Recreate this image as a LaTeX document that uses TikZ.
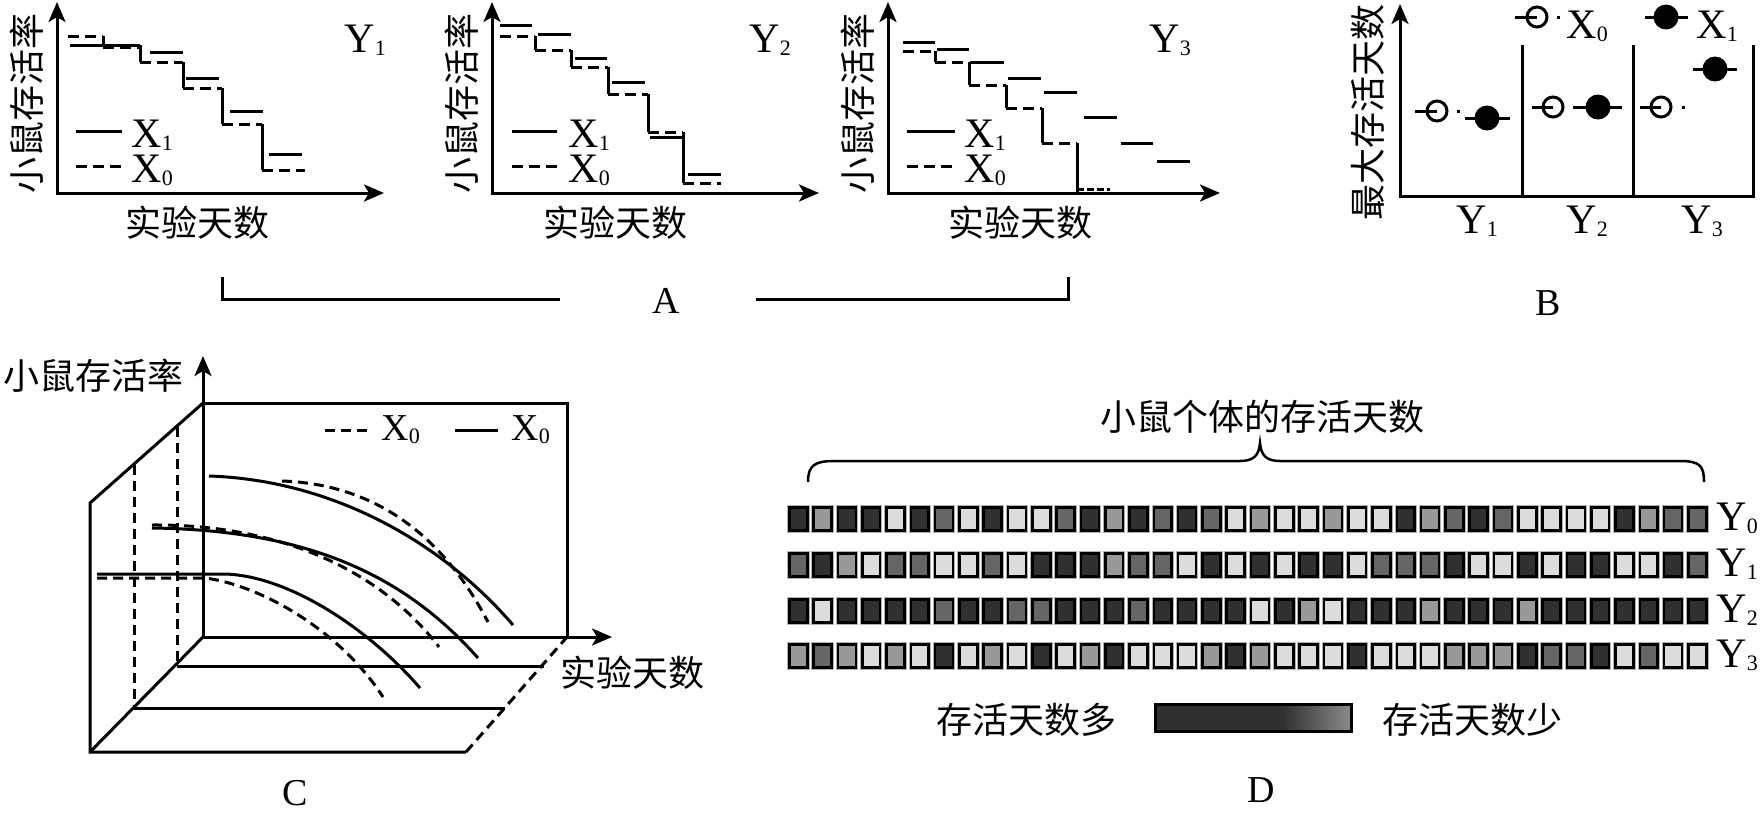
\documentclass[tikz,border=0pt]{standalone}
\usepackage{fontspec}
\setmainfont{Liberation Serif}
\newfontfamily\cjk{Noto Sans CJK SC}
\usetikzlibrary{arrows.meta}
\definecolor{colD}{HTML}{303030}
\definecolor{colM}{HTML}{666666}
\definecolor{colG}{HTML}{999999}
\definecolor{colL}{HTML}{DCDCDC}
\newcommand{\sbs}[1]{\raisebox{-3pt}{\fontsize{22}{22}\selectfont #1}}
\newcommand{\sqrow}[2]{%
  \foreach \sq [count=\i from 0] in {#2} {%
    \draw[black!30, line width=1pt] ({788+24.3*\i-0.5},{#1-0.5}) rectangle ++(21.5,27);
    \filldraw[fill=col\sq, draw=black, line width=2.6pt] ({788+24.3*\i+1.3},{#1+1.3}) rectangle ++(17.9,23.4);
  }}
\begin{document}
\begin{tikzpicture}[x=1pt,y=-1pt,line width=3pt,
  >={Stealth[length=20pt,width=17pt,inset=5pt]},
  dsh/.style={dash pattern=on 11pt off 6pt},
  cdsh/.style={dash pattern=on 10pt off 6pt},
  cn/.style={font={\cjk\fontsize{36}{40}\selectfont}, inner sep=0pt},
  lt/.style={font={\fontsize{42}{42}\selectfont}, inner sep=0pt, text height=29pt, text depth=3pt},
  lab/.style={font={\fontsize{38}{38}\selectfont}, inner sep=0pt, text height=26pt, text depth=3pt},
  ocirc/.style={circle, draw=black, line width=3pt, minimum size=20pt, inner sep=0pt},
  fcirc/.style={circle, fill=black, minimum size=25pt, inner sep=0pt}]
\fill[white] (0,0) rectangle (1764,817);
\useasboundingbox (0,0) rectangle (1764,817);

% ================= Panel A1 =================
\draw[<->] (57,2) -- (57,193) -- (384,193);
\node[cn, rotate=90] (a1y) at (27,103) {小鼠存活率};
\node[cn] (a1x) at (197,223) {实验天数};
\node[lt, anchor=base west] (a1t) at (343,52) {Y\sbs{1}};
\draw (76,131) -- (122,131);
\node[lt, anchor=base west] (a1l1) at (130,147) {X\sbs{1}};
\draw[dsh] (76,166) -- (122,166);
\node[lt, anchor=base west] (a1l0) at (130,182) {X\sbs{0}};
% X1 solid
\draw (70,45) -- (140,45);
\draw (150,52) -- (183,52);
\draw (186,78) -- (219,78);
\draw (230,111) -- (263,111);
\draw (269,154) -- (302,154);
% X0 dashed
\draw[dsh] (68,36) -- (103,36);
\draw (103,36) -- (103,47);
\draw[dsh] (103,47) -- (140,47);
\draw (140,45) -- (140,62);
\draw[dsh] (140,62) -- (183,62);
\draw (183,62) -- (183,88);
\draw[dsh] (183,88) -- (222,88);
\draw (222,88) -- (222,124);
\draw[dsh] (222,124) -- (262,124);
\draw (262,124) -- (262,170);
\draw[dsh] (262,170) -- (305,170);

% ================= Panel A2 =================
\draw[<->] (492,2) -- (492,193) -- (819,193);
\node[cn, rotate=90] (a2y) at (462,103) {小鼠存活率};
\node[cn] (a2x) at (615,223) {实验天数};
\node[lt, anchor=base west] (a2t) at (748,52) {Y\sbs{2}};
\draw (512,131) -- (557,131);
\node[lt, anchor=base west] (a2l1) at (567,147) {X\sbs{1}};
\draw[dsh] (512,166) -- (557,166);
\node[lt, anchor=base west] (a2l0) at (567,182) {X\sbs{0}};
\draw (500,25) -- (532,25);
\draw (538,34) -- (571,34);
\draw (575,58) -- (607,58);
\draw (612,82) -- (645,82);
\draw (650,137) -- (682,137);
\draw (688,174) -- (721,174);
\draw[dsh] (500,36) -- (535,36);
\draw (535,36) -- (535,50);
\draw[dsh] (535,50) -- (571,50);
\draw (571,50) -- (571,67);
\draw[dsh] (571,67) -- (608,67);
\draw (608,67) -- (608,94);
\draw[dsh] (608,94) -- (648,94);
\draw (648,94) -- (648,132);
\draw[dsh] (648,132) -- (683,132);
\draw (683,132) -- (683,183);
\draw[dsh] (683,183) -- (721,183);

% ================= Panel A3 =================
\draw[<->] (888,2) -- (888,193) -- (1220,193);
\node[cn, rotate=90] (a3y) at (858,103) {小鼠存活率};
\node[cn] (a3x) at (1020,223) {实验天数};
\node[lt, anchor=base west] (a3t) at (1148,52) {Y\sbs{3}};
\draw (907,131) -- (955,131);
\node[lt, anchor=base west] (a3l1) at (963,147) {X\sbs{1}};
\draw[dsh] (907,166) -- (955,166);
\node[lt, anchor=base west] (a3l0) at (963,182) {X\sbs{0}};
\draw (903,42) -- (935,42);
\draw (937,49) -- (969,49);
\draw (970,62) -- (1004,62);
\draw (1008,78) -- (1041,78);
\draw (1044,92) -- (1077,92);
\draw (1084,117) -- (1117,117);
\draw (1121,143) -- (1153,143);
\draw (1157,161) -- (1190,161);
\draw[dsh] (903,51) -- (935,51);
\draw (935,51) -- (935,62);
\draw[dsh] (935,62) -- (969,62);
\draw (969,62) -- (969,85);
\draw[dsh] (969,85) -- (1006,85);
\draw (1006,85) -- (1006,108);
\draw[dsh] (1006,108) -- (1042,108);
\draw (1042,108) -- (1042,143);
\draw[dsh] (1042,143) -- (1077,143);
\draw (1077,143) -- (1077,192);
\draw[dash pattern=on 7pt off 3pt] (1077,189) -- (1110,189);

% bracket A
\node[lab, anchor=base] (labA) at (666,313) {A};
\draw (222,277) -- (222,299) -- (560,299);
\draw (756,299) -- (1068,299) -- (1068,277);

% ================= Panel B =================
\draw[<-] (1400,4) -- (1400,196) -- (1753,196) -- (1753,45);
\draw (1522,45) -- (1522,196);
\draw (1633,45) -- (1633,196);
\node[cn, rotate=90] (by) at (1368,112) {最大存活天数};
\node[lt, anchor=base west] (bY1) at (1455,233) {Y\sbs{1}};
\node[lt, anchor=base west] (bY2) at (1565,233) {Y\sbs{2}};
\node[lt, anchor=base west] (bY3) at (1680,233) {Y\sbs{3}};
\node[lab, anchor=base] (labB) at (1548,315) {B};
% legend
\draw (1515,17) -- (1537,17);
\node[ocirc] (lgo) at (1537,17) {};
\fill (1556.5,15.5) rectangle (1559.5,18.5);
\node[lt, anchor=base west] (lgx0) at (1565,38) {X\sbs{0}};
\draw (1645,17) -- (1688,17);
\node[fcirc] (lgf) at (1666,17) {};
\node[lt, anchor=base west] (lgx1) at (1695,38) {X\sbs{1}};
% Y1
\draw (1415,111) -- (1437,111);
\node[ocirc] (o1) at (1437,111) {};
\fill (1456.5,109.5) rectangle (1459.5,112.5);
\draw (1465,118) -- (1510,118);
\node[fcirc] (f1) at (1487,118) {};
% Y2
\draw (1532,107) -- (1553,107);
\node[ocirc] (o2) at (1553,107) {};
\draw (1573,107) -- (1622,107);
\node[fcirc] (f2) at (1598,107) {};
% Y3
\draw (1640,107) -- (1661,107);
\node[ocirc] (o3) at (1661,107) {};
\fill (1681.5,105.5) rectangle (1684.5,108.5);
\draw (1693,69) -- (1737,69);
\node[fcirc] (f3) at (1715,69) {};

% ================= Panel C =================
\draw[<->] (203,356) -- (203,637) -- (612,637);
\draw (203,403) -- (567,403) -- (567,637);
\draw (203,403) -- (90,503) -- (90,752) -- (466,752);
\draw (90,752) -- (203,637);
\draw[cdsh] (466,752) -- (567,637);
\draw (177,666) -- (544,666);
\draw (134,708) -- (505,708);
\draw[cdsh] (134,465) -- (134,708);
\draw[cdsh] (177,427) -- (177,666);
% curves
\draw (209,476) .. controls (330,480) and (440,540) .. (513,625);
\draw[cdsh] (282,481) .. controls (370,484) and (440,530) .. (488,622);
\draw (152,528) .. controls (300,530) and (400,570) .. (478,658);
\draw[cdsh] (152,525) .. controls (280,524) and (380,570) .. (439,647);
\draw (97,574) -- (225,574) .. controls (290,576) and (370,630) .. (420,688);
\draw[cdsh] (97,578) -- (205,578) .. controls (260,585) and (340,630) .. (383,697);
% legend
\draw[cdsh] (325,430) -- (368,430);
\node[lab, anchor=base west] (cl0) at (380,440) {X\sbs{0}};
\draw (455,430) -- (498,430);
\node[lab, anchor=base west] (cl1) at (510,440) {X\sbs{0}};
\node[cn] (cy) at (94,376) {小鼠存活率};
\node[cn] (cx) at (632,673) {实验天数};
\node[lab, anchor=base] (labC) at (295,805) {C};

% ================= Panel D =================
\node[cn] (dt) at (1262,417) {小鼠个体的存活天数};
\draw[line width=2.5pt] (808,482) .. controls (808,466) and (814,461) .. (834,461) -- (1240,461) .. controls (1254,461) and (1259,455) .. (1260,443) .. controls (1261,455) and (1266,461) .. (1280,461) -- (1680,461) .. controls (1700,461) and (1704,466) .. (1704,482);
\sqrow{506}{D,G,D,D,L,D,M,L,D,L,L,M,D,G,D,M,D,M,L,G,L,L,G,L,L,D,G,M,D,M,L,L,L,L,D,G,M,M}
\sqrow{552}{M,D,G,L,M,M,L,L,M,L,D,D,D,G,M,M,L,D,L,D,L,D,D,L,M,M,M,D,L,L,D,L,D,D,L,L,D,M}
\sqrow{598}{D,L,D,D,D,D,M,D,D,M,M,D,D,D,M,D,D,D,D,L,D,G,L,D,D,D,G,D,D,D,G,D,D,D,D,D,D,D}
\sqrow{643}{G,M,G,L,G,L,D,L,G,L,D,L,G,D,L,L,L,G,D,G,L,L,L,D,L,L,L,G,G,G,D,M,M,D,L,M,L,L}
\node[lt, anchor=base west] (dy0) at (1715,530) {Y\sbs{0}};
\node[lt, anchor=base west] (dy1) at (1715,576) {Y\sbs{1}};
\node[lt, anchor=base west] (dy2) at (1715,622) {Y\sbs{2}};
\node[lt, anchor=base west] (dy3) at (1715,667) {Y\sbs{3}};
\fill[colD] (1155,704) rectangle (1283,732);
\shade[left color=colD, right color=black!45] (1282,704) rectangle (1352,732);
\draw[line width=3pt] (1155.5,704.5) rectangle (1351.5,731.5);
\node[cn] (dmore) at (1026,720) {存活天数多};
\node[cn] (dless) at (1472,720) {存活天数少};
\node[lab, anchor=base] (labD) at (1261,802) {D};
\end{tikzpicture}
\end{document}
